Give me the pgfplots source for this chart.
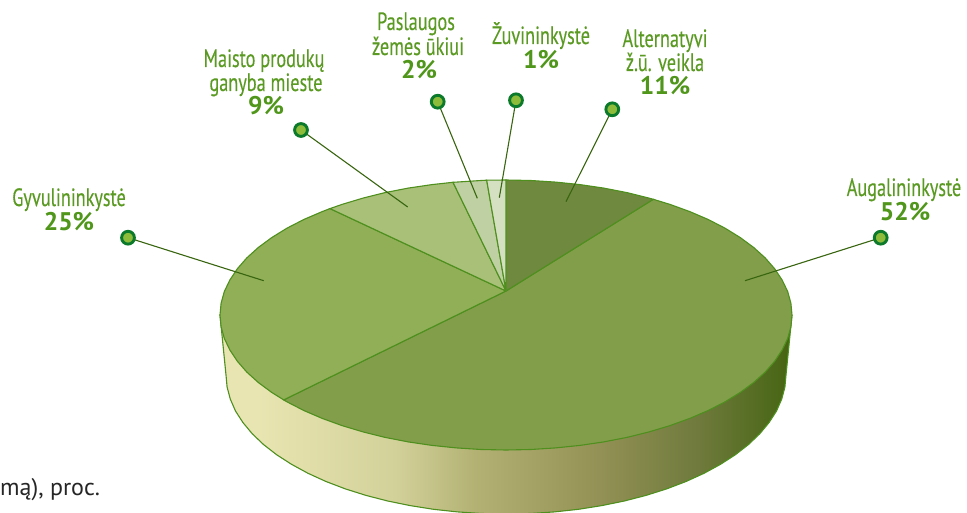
\documentclass[border=0pt]{standalone}
\usepackage{pgfplots}
\pgfplotsset{compat=1.18}
\usepackage{fontspec}
\setmainfont{PT Sans}
\newfontfamily\lab[FakeStretch=0.73,FakeBold=0.25]{PT Sans}
\newfontfamily\labb{PT Sans}
\definecolor{edgeg}{HTML}{4E8F1E}
\definecolor{leadg}{HTML}{38650F}
\definecolor{txtg}{HTML}{5A9A22}
\definecolor{txtb}{HTML}{4F961A}
\definecolor{sliceAc}{HTML}{6F893E}
\definecolor{sliceBc}{HTML}{829E4A}
\definecolor{sliceCc}{HTML}{90AF56}
\definecolor{sliceDc}{HTML}{A8C078}
\definecolor{sliceEc}{HTML}{BFD0A2}
\definecolor{sliceFc}{HTML}{D5E0C3}
\definecolor{markf}{HTML}{8DBB3A}
\definecolor{markd}{HTML}{0B7A2A}
\pgfdeclarehorizontalshading{wallshade}{100bp}{
 rgb(0bp)=(0.915,0.900,0.700);
 rgb(28bp)=(0.915,0.900,0.700);
 rgb(40.3bp)=(0.827,0.820,0.604);
 rgb(47.4bp)=(0.700,0.695,0.450);
 rgb(58bp)=(0.580,0.570,0.335);
 rgb(66.8bp)=(0.435,0.478,0.235);
 rgb(73bp)=(0.310,0.415,0.110);
 rgb(75bp)=(0.275,0.390,0.065);
 rgb(100bp)=(0.275,0.390,0.065)}
\pgfplotstableread{
x y
792 315
786 375
784.9 387.1
781.7 399.1
776.5 411
769.1 422.5
759.8 433.7
748.5 444.5
735.4 454.7
720.5 464.3
704 473.3
686 481.5
666.6 488.9
646 495.4
624.3 501
601.8 505.6
578.5 509.3
554.6 511.9
530.4 513.5
506 514
481.6 513.5
457.4 511.9
433.5 509.3
410.2 505.6
387.7 501
366 495.4
345.4 488.9
326 481.5
308 473.3
291.5 464.3
276.6 454.7
263.5 444.5
252.2 433.7
242.9 422.5
235.5 411
230.3 399.1
227.1 387.1
226 375
220 315
792 315
}\wall
\pgfplotstableread{
x y
506 291
506 180
530.9 180.5
555.7 182.1
580 184.6
603.8 188.1
626.9 192.6
649 198.1
653.3 199.3
506 291
}\sliceA
\pgfplotstableread{
x y
506 291
653.3 199.3
670 204.4
689.8 211.6
708.2 219.5
725.1 228.2
740.3 237.6
753.7 247.5
765.2 257.9
774.7 268.8
782.2 280.1
787.7 291.6
790.9 303.2
792 315
790.9 326.8
787.7 338.4
782.2 349.9
774.7 361.2
765.2 372.1
753.7 382.5
740.3 392.4
725.1 401.8
708.2 410.5
689.8 418.4
670 425.6
649 431.9
626.9 437.4
603.8 441.9
580 445.4
555.7 447.9
530.9 449.5
506 450
481.1 449.5
456.3 447.9
432 445.4
408.2 441.9
385.1 437.4
363 431.9
342 425.6
322.2 418.4
303.8 410.5
286.9 401.8
283.7 399.9
506 291
}\sliceB
\pgfplotstableread{
x y
506 291
283.7 399.9
271.7 392.4
258.3 382.5
246.8 372.1
237.3 361.2
229.8 349.9
224.3 338.4
221.1 326.8
220 315
221.1 303.2
224.3 291.6
229.8 280.1
237.3 268.8
246.8 257.9
258.3 247.5
271.7 237.6
286.9 228.2
303.8 219.5
322.2 211.6
330 208.6
506 291
}\sliceC
\pgfplotstableread{
x y
506 291
330 208.6
342 204.4
363 198.1
385.1 192.6
408.2 188.1
432 184.6
453 182.3
506 291
}\sliceD
\pgfplotstableread{
x y
506 291
453 182.3
456.3 182.1
481.1 180.5
486.7 180.2
506 291
}\sliceE
\pgfplotstableread{
x y
506 291
486.7 180.2
506 180
506 291
}\sliceF
\begin{document}
\begin{tikzpicture}
\useasboundingbox (0,0) rectangle (967pt,513pt);
\begin{axis}[
  at={(0,0)}, anchor=south west,
  scale only axis, width=967pt, height=513pt,
  xmin=0, xmax=967, ymin=0, ymax=513, y dir=reverse,
  hide axis,
  every axis plot/.append style={no marks},
]
\addplot[shading=wallshade, draw=edgeg, line width=1.1pt] table {\wall};
\addplot[fill=sliceBc, draw=edgeg, line width=1.1pt] table {\sliceB};
\addplot[fill=sliceAc, draw=edgeg, line width=1.1pt] table {\sliceA};
\addplot[fill=sliceCc, draw=edgeg, line width=1.1pt] table {\sliceC};
\addplot[fill=sliceDc, draw=edgeg, line width=1.1pt] table {\sliceD};
\addplot[fill=sliceEc, draw=edgeg, line width=1.1pt] table {\sliceE};
\addplot[fill=sliceFc, draw=edgeg, line width=1.1pt] table {\sliceF};
% leaders
\addplot[leadg, line width=1.1pt] coordinates {(612.3,109.3) (566,201.7)};
\addplot[leadg, line width=1.1pt] coordinates {(516,100.3) (499.3,197.7)};
\addplot[leadg, line width=1.1pt] coordinates {(437.7,101.7) (477.3,198.3)};
\addplot[leadg, line width=1.1pt] coordinates {(301,130) (407.7,207)};
\addplot[leadg, line width=1.1pt] coordinates {(128,237.7) (263.7,280.7)};
\addplot[leadg, line width=1.1pt] coordinates {(880.7,237.7) (745,280.7)};
% markers
\addplot[only marks, mark=*, mark size=6.4pt,
  mark options={fill=markf, draw=markd, line width=2.9pt}]
  coordinates {(612.3,109.3) (516,100.3) (437.7,101.7) (301,130) (128,237.7) (880.7,237.7)};
% labels
\tikzset{l/.style={anchor=base, inner sep=0pt, text=txtg, font=\lab\fontsize{25}{27}\selectfont},
         b/.style={anchor=base, inner sep=0pt, text=txtb, font=\labb\bfseries\fontsize{25.5}{27}\selectfont}}
\node[l] at (axis cs:416,30) {Paslaugos};
\node[l] at (axis cs:418,55) {žemės ūkiui};
\node[b] at (axis cs:419,79) {2\%};
\node[l] at (axis cs:541,44) {Žuvininkystė};
\node[b] at (axis cs:541,69) {1\%};
\node[l] at (axis cs:665,47) {Alternatyvi};
\node[l] at (axis cs:665,71) {ž.ū. veikla};
\node[b] at (axis cs:665,95) {11\%};
\node[l] at (axis cs:264,67) {Maisto produkų};
\node[l] at (axis cs:266,91) {ganyba mieste};
\node[b] at (axis cs:266,115) {9\%};
\node[l] at (axis cs:69,206) {Gyvulininkystė};
\node[b] at (axis cs:69,231) {25\%};
\node[l] at (axis cs:904,196) {Augalininkystė};
\node[b] at (axis cs:905,221) {52\%};
\node[anchor=base west, inner sep=0pt, text=black!85, font=\fontsize{24}{26}\selectfont] at (axis cs:0,495) {mą), proc.};
\end{axis}
\end{tikzpicture}
\end{document}
